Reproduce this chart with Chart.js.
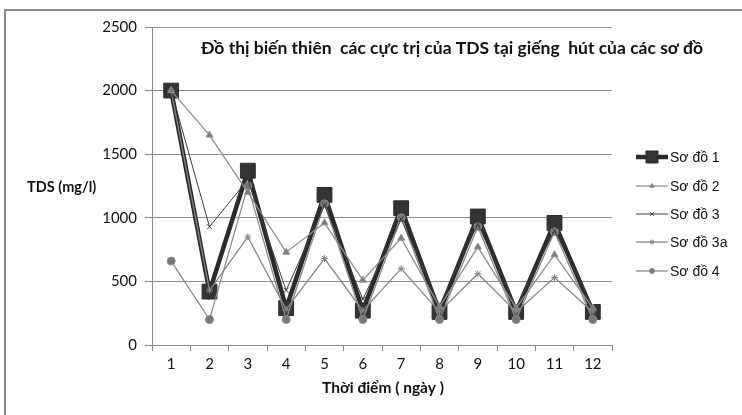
<!DOCTYPE html>
<html>
<head>
<meta charset="utf-8">
<script src="https://cdn.jsdelivr.net/npm/chart.js@4.4.1/dist/chart.umd.min.js"></script>
<style>
  html, body { margin: 0; padding: 0; background: #fff; }
  #wrap { position: relative; width: 742px; height: 415px; overflow: hidden; }
  #frame { position: absolute; left: 4px; top: 9px; width: 800px; height: 500px; border: 2px solid #8a8a8a; }
  canvas { position: absolute; left: 0; top: 0; }
</style>
</head>
<body>
<div id="wrap">
  <div id="frame"></div>
  <canvas id="c" width="742" height="415"></canvas>
</div>
<script>
'use strict';

const categories = ['1', '2', '3', '4', '5', '6', '7', '8', '9', '10', '11', '12'];
const so1  = [2000, 420, 1370, 290, 1180, 270, 1075, 260, 1010, 260, 960, 260];
const so2  = [2000, 1650, 1200, 730, 960, 510, 840, 300, 770, 290, 710, 290];
const so3  = [2000, 930, 1300, 430, 1100, 360, 990, 310, 950, 300, 900, 300];
const so3a = [2000, 430, 850, 280, 680, 270, 600, 260, 560, 260, 530, 260];
const so4  = [660, 200, 1250, 200, 1110, 200, 1000, 200, 930, 200, 890, 200];
const yTicks = [0, 500, 1000, 1500, 2000, 2500];

const TITLE   = 'Đồ thị biến thiên  các cực trị của TDS tại giếng  hút của các sơ đồ';
const Y_TITLE = 'TDS (mg/l)';
const X_TITLE = 'Thời điểm ( ngày )';

const SERIES = [
  { label: 'Sơ đồ 1',  data: so1,  color: '#2b2b2b', fill: '#333', width: 4.5, style: 'rect',     radius: 10.5, order: 1 },
  { label: 'Sơ đồ 2',  data: so2,  color: '#8e8e8e', fill: '#7a7a7a', width: 1.3, style: 'triangle', radius: 4, order: 0 },
  { label: 'Sơ đồ 3',  data: so3,  color: '#3c3c3c', fill: '#3c3c3c', width: 1,   style: 'crossRot', radius: 3.5, order: 0 },
  { label: 'Sơ đồ 3a', data: so3a, color: '#858585', fill: '#6a6a6a', width: 1.3, style: 'star',     radius: 3.5, order: 0 },
  { label: 'Sơ đồ 4',  data: so4,  color: '#8a8a8a', fill: '#777', width: 1.3, style: 'circle',   radius: 4,   order: 0 },
];

const TICK_FONT = { family: 'Lato', size: 15 };

const textPlugin = {
  id: 'texts',
  afterDraw(chart) {
    const ctx = chart.ctx;
    const area = chart.chartArea;
    ctx.save();
    ctx.fillStyle = '#111';
    ctx.textBaseline = 'middle';

    ctx.font = 'bold 17.5px Lato';
    ctx.textAlign = 'center';
    ctx.fillText(TITLE, 452, 48);

    ctx.font = 'bold 14.5px Lato';
    ctx.textAlign = 'left';
    ctx.fillText(Y_TITLE, 27, 187);

    ctx.font = 'bold 15.5px Lato';
    ctx.textAlign = 'center';
    ctx.fillText(X_TITLE, (area.left + area.right) / 2 + 1, 388);

    // legend
    const legendY = [157, 186, 214, 242, 271];
    SERIES.forEach((s, i) => {
      const y = legendY[i];
      ctx.strokeStyle = s.color;
      ctx.lineWidth = s.width;
      ctx.beginPath();
      ctx.moveTo(636, y);
      ctx.lineTo(668, y);
      ctx.stroke();
      ctx.fillStyle = s.fill;
      ctx.strokeStyle = s.color;
      ctx.lineWidth = 1;
      Chart.helpers.drawPoint(ctx, {
        pointStyle: s.style,
        radius: i === 0 ? 8.5 : 2.5,
        borderWidth: 1,
        rotation: 0,
      }, 652, y);
      ctx.fillStyle = '#111';
      ctx.font = '14px "Liberation Sans"';
      ctx.textAlign = 'left';
      ctx.fillText(s.label, 670, y + 1);
    });
    ctx.restore();
  },
};

new Chart(document.getElementById('c').getContext('2d'), {
  type: 'line',
  data: {
    labels: categories,
    datasets: SERIES.map(s => ({
      label: s.label,
      data: s.data,
      borderColor: s.color,
      borderWidth: s.width,
      backgroundColor: s.fill,
      pointStyle: s.style,
      pointRadius: s.radius,
      pointBorderColor: s.color,
      pointBackgroundColor: s.fill,
      pointBorderWidth: 1,
      tension: 0,
      order: s.order,
    })),
  },
  options: {
    responsive: false,
    animation: false,
    layout: { padding: { left: 0, right: 130, top: 27, bottom: 0 } },
    plugins: {
      legend: { display: false },
      tooltip: { enabled: false },
    },
    scales: {
      x: {
        offset: true,
        grid: {
          offset: true,
          drawOnChartArea: false,
          color: '#888',
          tickLength: 6,
        },
        border: { color: '#888', width: 1 },
        ticks: { color: '#111', font: TICK_FONT, padding: 4 },
        afterFit: s => { s.height = 70; },
      },
      y: {
        min: 0,
        max: 2500,
        afterBuildTicks: s => { s.ticks = yTicks.map(v => ({ value: v })); },
        grid: { color: '#8a8a8a', tickLength: 7 },
        border: { color: '#888', width: 1 },
        ticks: { color: '#111', font: TICK_FONT, padding: 8, callback: v => String(v) },
        afterFit: s => { s.width = 152; },
      },
    },
  },
  plugins: [textPlugin],
});
</script>
</body>
</html>
